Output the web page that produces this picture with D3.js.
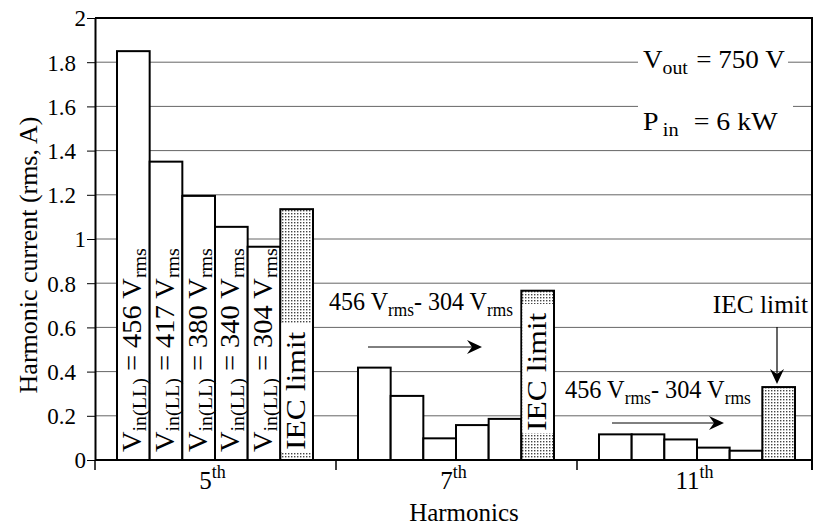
<!DOCTYPE html>
<html lang="en">
<head>
    <meta charset="UTF-8">
    <title>Harmonic current</title>
    <style>
        body { margin: 0; background: #fff; }
        svg text { font-family: "Liberation Serif", "Times New Roman", Times, serif; fill: #000; }
    </style>
</head>
<body>

    <svg id="svg" width="820" height="527"></svg>

    <script src="https://d3js.org/d3.v7.min.js"></script>
    <script>
        // values
        const harmonics = [5, 7, 11]
        const supplies = ['456', '417', '380', '340', '304']
        const series = [...supplies, 'IEC']
        const current5 = [1.85, 1.35, 1.195, 1.055, 0.965, 1.135]
        const current7 = [0.418, 0.29, 0.098, 0.158, 0.186, 0.766]
        const current11 = [0.116, 0.116, 0.093, 0.056, 0.042, 0.33]
        const yTicks = [0, 0.2, 0.4, 0.6, 0.8, 1, 1.2, 1.4, 1.6, 1.8, 2]
        const yTickLabels = ['0', '0.2', '0.4', '0.6', '0.8', '1', '1.2', '1.4', '1.6', '1.8', '2']

        const currents = [current5, current7, current11]
        const data = harmonics.flatMap((h, i) => series.map((s, j) => ({ h, s, v: currents[i][j] })))

        const serif = 'Liberation Serif, Times New Roman, Times, serif'
        const plotL = 95, plotR = 812, plotT = 18, plotB = 460
        const svg = d3.select('#svg').attr('font-family', serif)

        const y = d3.scaleLinear().domain([0, 2]).range([plotB, plotT])
        const x = d3.scaleBand().domain(harmonics).range([plotL, 818])
        const xs = d3.scaleBand().domain(series).range([22, 218])

        // stipple fill for the IEC limit bars
        const pat = svg.append('defs').append('pattern')
            .attr('id', 'dots')
            .attr('patternUnits', 'userSpaceOnUse')
            .attr('width', 3).attr('height', 3)
        pat.append('rect').attr('width', 3).attr('height', 3).attr('fill', '#fff')
        pat.append('rect').attr('width', 1.4).attr('height', 1.4).attr('fill', '#444')

        // squeeze / stretch a text along its own direction
        function fit(sel, len) {
            const w = sel.node().getBBox().width
            sel.attr('transform', `scale(${len / w},1)`)
        }

        // grid
        svg.append('g')
            .selectAll('line')
            .data(yTicks.filter(d => d > 0 && d < 2))
            .enter()
            .append('line')
            .attr('x1', plotL).attr('x2', plotR)
            .attr('y1', d => y(d)).attr('y2', d => y(d))
            .attr('stroke', '#666')
            .attr('stroke-width', 1)

        // white patches behind the operating-point text
        svg.append('rect').attr('x', 638).attr('y', 45).attr('width', 150).attr('height', 34).attr('fill', '#fff')
        svg.append('rect').attr('x', 638).attr('y', 99).attr('width', 155).attr('height', 44).attr('fill', '#fff')

        // bars
        svg.append('g')
            .selectAll('rect')
            .data(data)
            .enter()
            .append('rect')
            .attr('x', d => x(d.h) + xs(d.s))
            .attr('y', d => y(d.v))
            .attr('width', xs.bandwidth())
            .attr('height', d => plotB - y(d.v))
            .attr('fill', d => d.s === 'IEC' ? 'url(#dots)' : '#fff')
            .attr('stroke', '#000')
            .attr('stroke-width', 2)

        // frame
        svg.append('path')
            .attr('d', `M${plotL},${plotT}H${plotR}V470`)
            .attr('fill', 'none')
            .attr('stroke', '#000')
            .attr('stroke-width', 2)

        // y axis
        const yAxis = svg.append('g')
            .attr('transform', `translate(${plotL},0)`)
            .call(d3.axisLeft(y)
                .tickValues(yTicks)
                .tickSize(8)
                .tickSizeOuter(0)
                .tickFormat((d, i) => yTickLabels[i]))
        yAxis.attr('font-family', serif).attr('font-size', 23)
        yAxis.select('.domain').attr('stroke-width', 2)
        yAxis.selectAll('text')
            .attr('x', d => Number.isInteger(d) ? -9 : -19)
            .attr('dy', '0.34em')

        // x axis
        svg.append('line')
            .attr('x1', plotL).attr('x2', plotR)
            .attr('y1', plotB).attr('y2', plotB)
            .attr('stroke', '#000').attr('stroke-width', 2)
        svg.append('g')
            .selectAll('line')
            .data([plotL, x(7), x(11)])
            .enter()
            .append('line')
            .attr('x1', d => d).attr('x2', d => d)
            .attr('y1', plotB).attr('y2', 470)
            .attr('stroke', '#000').attr('stroke-width', 1.5)

        const xl = svg.append('g')
            .selectAll('text')
            .data(harmonics)
            .enter()
            .append('text')
            .attr('x', d => x(d) + x.bandwidth() / 2 - 3)
            .attr('y', 489)
            .attr('text-anchor', 'middle')
            .attr('font-size', 25)
        xl.append('tspan').text(d => d)
        xl.append('tspan').attr('font-size', 18).attr('dy', -11).text('th')

        svg.append('text')
            .attr('x', 464).attr('y', 521)
            .attr('text-anchor', 'middle')
            .attr('font-size', 25)
            .text('Harmonics')

        const yl = svg.append('g')
            .attr('transform', 'translate(37,255) rotate(-90)')
            .append('text')
            .attr('text-anchor', 'middle')
            .attr('font-size', 26)
            .text('Harmonic current (rms, A)')
        fit(yl, 277)

        // labels inside the 5th harmonic bars
        supplies.forEach(s => {
            const cx = x(5) + xs(s) + xs.bandwidth() / 2
            const t = svg.append('g')
                .attr('transform', `translate(${cx + 8},452) rotate(-90)`)
                .append('text')
                .attr('font-size', 27)
            t.append('tspan').text('V')
            t.append('tspan').attr('font-size', 19).attr('dy', 5).text('in(LL)')
            t.append('tspan').attr('dy', -5).text(` = ${s} V`)
            t.append('tspan').attr('font-size', 19).attr('dy', 5).text('rms')
            fit(t, 204)
        })

        // "IEC limit" inside the 5th and 7th limit bars
        const iecLabels = [{ h: 5, start: 450 }, { h: 7, start: 431 }]
        iecLabels.forEach(d => {
            const bx = x(d.h) + xs('IEC')
            svg.append('rect')
                .attr('x', bx + 1).attr('y', d.start - 127)
                .attr('width', xs.bandwidth() - 2).attr('height', 129)
                .attr('fill', '#fff')
            const t = svg.append('g')
                .attr('transform', `translate(${bx + xs.bandwidth() / 2 + 8},${d.start}) rotate(-90)`)
                .append('text')
                .attr('font-size', 27)
                .text('IEC limit')
            fit(t, 119)
        })

        // range annotations with arrows
        function arrowHead(g, px, py, dir) {
            const pts = dir === 'right'
                ? [[px, py], [px - 15, py - 7], [px - 10, py], [px - 15, py + 7]]
                : [[px, py], [px - 7, py - 15], [px, py - 10], [px + 7, py - 15]]
            g.append('path').attr('d', d3.line()(pts) + 'Z').attr('fill', '#000')
        }

        const ranges = [
            { tx: 329, ty: 310, len: 184, ax1: 368, ax2: 482, ay: 347 },
            { tx: 565, ty: 398, len: 186, ax1: 612, ax2: 724, ay: 423 }
        ]
        ranges.forEach(r => {
            const t = svg.append('g')
                .attr('transform', `translate(${r.tx},${r.ty})`)
                .append('text')
                .attr('font-size', 25)
            t.append('tspan').text('456 V')
            t.append('tspan').attr('font-size', 18).attr('dy', 6).text('rms')
            t.append('tspan').attr('dy', -6).text('- 304 V')
            t.append('tspan').attr('font-size', 18).attr('dy', 6).text('rms')
            fit(t, r.len)
            const g = svg.append('g')
            g.append('line')
                .attr('x1', r.ax1).attr('x2', r.ax2 - 4)
                .attr('y1', r.ay).attr('y2', r.ay)
                .attr('stroke', '#000').attr('stroke-width', 1)
            arrowHead(g, r.ax2, r.ay, 'right')
        })

        const iec11 = svg.append('g')
            .attr('transform', 'translate(808,313)')
            .append('text')
            .attr('text-anchor', 'end')
            .attr('font-size', 26)
            .text('IEC limit')
        fit(iec11, 96)
        const down = svg.append('g')
        down.append('line')
            .attr('x1', 777).attr('x2', 777)
            .attr('y1', 327).attr('y2', 379)
            .attr('stroke', '#000').attr('stroke-width', 1.2)
        arrowHead(down, 777, 384, 'down')

        // operating point
        const vout = svg.append('g')
            .attr('transform', 'translate(643,68)')
            .append('text')
            .attr('font-size', 26)
        vout.append('tspan').text('V')
        vout.append('tspan').attr('font-size', 19).attr('dy', 6).text('out')
        vout.append('tspan').attr('dy', -6).attr('dx', 8).text('= 750 V')
        fit(vout, 142)

        const pin = svg.append('g')
            .attr('transform', 'translate(643,130)')
            .append('text')
            .attr('font-size', 26)
        pin.append('tspan').text('P')
        pin.append('tspan').attr('font-size', 19).attr('dy', 6).attr('dx', 4).text('in')
        pin.append('tspan').attr('dy', -6).attr('dx', 14).text('= 6 kW')
        fit(pin, 135)
    </script>
</body>
</html>
